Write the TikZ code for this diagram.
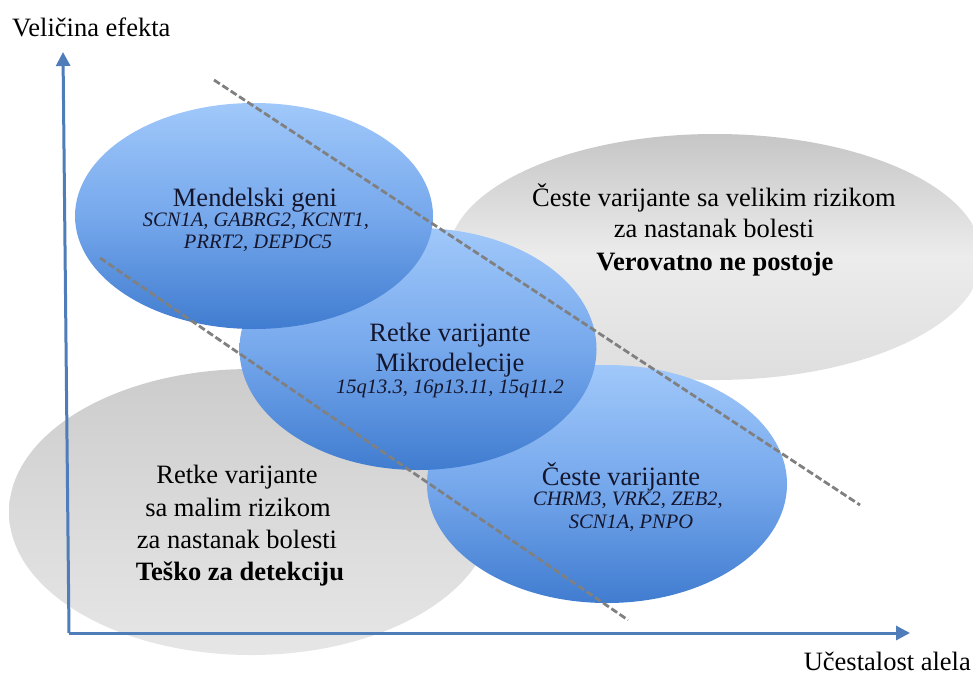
\documentclass[tikz,border=0pt]{standalone}
\usepackage{fontspec}
\setmainfont{Liberation Serif}
\usetikzlibrary{shapes.geometric,arrows.meta}

\definecolor{axisblue}{RGB}{79,125,185}
\definecolor{bluetop}{RGB}{160,200,250}
\definecolor{bluemid}{RGB}{118,168,236}
\definecolor{bluebot}{RGB}{64,124,208}
\definecolor{graytop}{RGB}{198,198,198}
\definecolor{graymid}{RGB}{236,236,236}
\definecolor{graybot}{RGB}{222,222,222}
\definecolor{lowtop}{RGB}{204,204,204}
\definecolor{lowmid}{RGB}{218,218,218}
\definecolor{lowbot}{RGB}{230,230,230}
\definecolor{dashgray}{RGB}{128,128,128}
\definecolor{inktext}{RGB}{20,22,45}

\tikzset{
  region/.style={ellipse, draw=none, inner sep=0pt},
  bluezone/.style={region, top color=bluetop, bottom color=bluebot, middle color=bluemid},
  grayzone/.style={region, top color=graytop, bottom color=graybot, middle color=graymid},
  lowzone/.style={region, top color=lowtop, bottom color=lowbot, middle color=lowmid},
  axisline/.style={draw=axisblue, line width=3pt, -{Triangle[length=14pt,width=14pt]}},
  divider/.style={draw=dashgray, line width=2.8pt, dash pattern=on 7pt off 3pt},
  title/.style={anchor=base, inner sep=0pt, font=\fontsize{26.5}{30}\selectfont},
  boldtitle/.style={title, font=\fontsize{26.5}{30}\selectfont\bfseries},
  genes/.style={anchor=base, inner sep=0pt, font=\fontsize{20.5}{24}\selectfont\itshape},
  bluetext/.style={text=inktext},
}

\begin{document}
\begin{tikzpicture}[x=1pt,y=-1pt]
\useasboundingbox (0,0) rectangle (973,675);

% grey background regions
\node[grayzone, minimum width=534pt, minimum height=246pt] (common) at (715,257) {};
\node[lowzone, minimum width=484pt, minimum height=286pt] (rare) at (251,512) {};

% blue regions, lowest first
\node[bluezone, minimum width=360pt, minimum height=238pt] (cestez) at (607,484) {};
\node[bluezone, minimum width=357pt, minimum height=242pt] (retkez) at (418,349) {};
\node[bluezone, minimum width=358pt, minimum height=226pt] (mendz) at (254,216) {};

% axes
\coordinate (origin) at (69,633);
\coordinate (ytip) at (63,52);
\coordinate (xtip) at (910,633);
\draw[axisline] (origin) -- (ytip);
\draw[axisline] (origin) -- (xtip);

% dashed dividers
\coordinate (d1a) at (214,80);
\coordinate (d1b) at (860,505);
\coordinate (d2a) at (100,258);
\coordinate (d2b) at (628,620);
\draw[divider] (d1a) -- (d1b);
\draw[divider] (d2a) -- (d2b);

% axis labels
\node[anchor=base west, inner sep=0pt, font=\fontsize{26.5}{30}\selectfont] (ylab) at (12,36) {Veličina efekta};
\node[anchor=base east, inner sep=0pt, font=\fontsize{26.5}{30}\selectfont] (xlab) at (971,670) {Učestalost alela};

% Mendelian genes
\node[title, bluetext] (m1) at (255,206) {Mendelski geni};
\node[genes, bluetext] (m2) at (256,226) {SCN1A, GABRG2, KCNT1,};
\node[genes, bluetext] (m3) at (258,248) {PRRT2, DEPDC5};

% rare variants / microdeletions
\node[title, bluetext] (r1) at (450,341) {Retke varijante};
\node[title, bluetext] (r2) at (450,371) {Mikrodelecije};
\node[genes, bluetext] (r3) at (450,393) {15q13.3, 16p13.11, 15q11.2};

% common variants
\node[title, bluetext] (c1) at (621,485) {Česte varijante};
\node[genes, bluetext] (c2) at (628,505) {CHRM3, VRK2, ZEB2,};
\node[genes, bluetext] (c3) at (631,528) {SCN1A, PNPO};

% common high-risk variants
\node[title] (h1) at (714,206) {Česte varijante sa velikim rizikom};
\node[title] (h2) at (714,237) {za nastanak bolesti};
\node[boldtitle] (h3) at (715,270) {Verovatno ne postoje};

% rare low-risk variants
\node[title] (l1) at (237,483) {Retke varijante};
\node[title] (l2) at (238,516) {sa malim rizikom};
\node[title] (l3) at (237,548) {za nastanak bolesti};
\node[boldtitle] (l4) at (240,580) {Teško za detekciju};
\end{tikzpicture}
\end{document}
